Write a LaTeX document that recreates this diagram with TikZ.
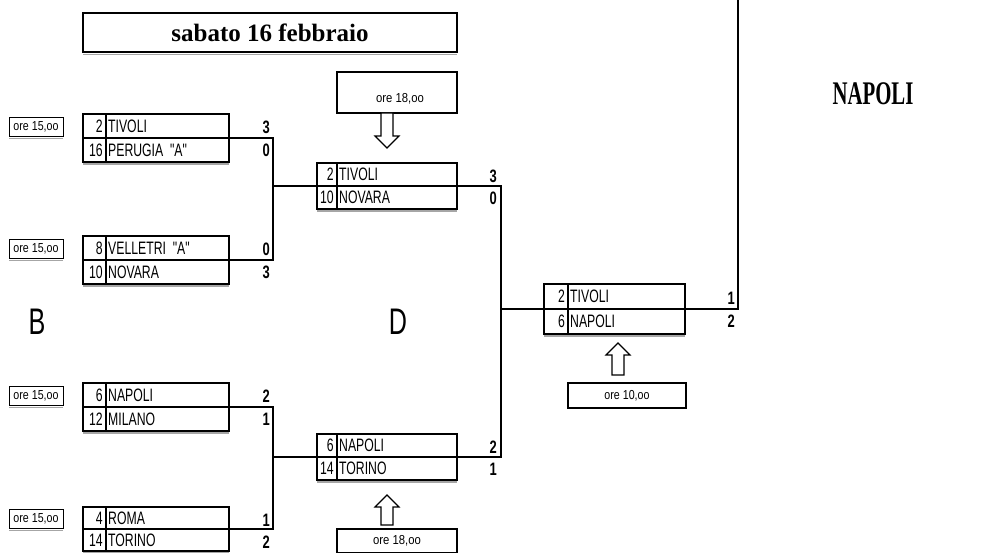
\documentclass[tikz,border=0pt]{standalone}
\usepackage{fontspec}
\setmainfont{Liberation Serif}
\newfontfamily\tsans{Liberation Sans}
\newcommand\nar[2][0.68]{\scalebox{#1}[1]{#2}}
\tikzset{
 x=1pt, y=-1pt,
 box/.style={draw, line width=1.3pt, inner sep=0pt, outer sep=0pt},
 conn/.style={line width=1.2pt},
 heavy/.style={line width=2.4pt},
 shade/.style={line width=1.2pt, black!35},
 team/.style={inner sep=0pt, font=\tsans\fontsize{18}{18}\selectfont},
 score/.style={inner sep=0pt, font=\tsans\bfseries\fontsize{18}{18}\selectfont},
 timetxt/.style={inner sep=0pt, font=\tsans\fontsize{13}{13}\selectfont},
 hollow/.style={draw, line width=1.1pt, fill=white, line join=miter},
}
% name, (x,y), width, height, separator offset, seed1, team1, seed2, team2
\newcommand\matchbox[9]{%
 \node[box, minimum width=#3, minimum height=#4] (#1) at #2 {};
 \draw[conn] (#1.west) -- (#1.east);
 \draw[conn] ([xshift=#5]#1.north west) -- ([xshift=#5]#1.south west);
 \draw[heavy] (#1.north west) -- (#1.north east);
 \draw[shade] ([yshift=-2]#1.south west) -- ([yshift=-2]#1.south east);
 \node[team, anchor=east] (#1sa) at ([xshift=#5-3, yshift=-#4/4]#1.north west) {\nar{#6}};
 \node[team, anchor=west] (#1ta) at ([xshift=#5+2, yshift=-#4/4]#1.north west) {\nar{#7}};
 \node[team, anchor=east] (#1sb) at ([xshift=#5-3, yshift=#4/4]#1.south west) {\nar{#8}};
 \node[team, anchor=west] (#1tb) at ([xshift=#5+2, yshift=#4/4]#1.south west) {\nar{#9}};
}
\newcommand\timebox[2]{%
 \node[box, line width=1pt, minimum width=54, minimum height=19, timetxt] (#1) at #2 {\nar[0.82]{ore 15,oo}};
 \draw[shade] ([yshift=-2]#1.south west) -- ([yshift=-2]#1.south east);
}
\newcommand\score[3]{\node[score, anchor=east] (#1) at #2 {\nar[0.72]{#3}};}
\begin{document}
\begin{tikzpicture}
\useasboundingbox (0,0) rectangle (982,553);

% title
\node[box, minimum width=374, minimum height=39, font=\bfseries\fontsize{25}{25}\selectfont] (title) at (270,32.5) {sabato 16 febbraio};
\draw[heavy] (title.south west) -- (title.south east);
\draw[line width=2pt] (title.south east) -- (title.north east);
\draw[shade] ([yshift=-2.5]title.south west) -- ([yshift=-2.5]title.south east);

% round 1
\matchbox{m1}{(156,138)}{146}{48}{23}{2}{TIVOLI}{16}{PERUGIA \ "A"}
\matchbox{m2}{(156,260)}{146}{48}{23}{8}{VELLETRI \ "A"}{10}{NOVARA}
\matchbox{m3}{(156,407)}{146}{48}{23}{6}{NAPOLI}{12}{MILANO}
\matchbox{m4}{(156,529)}{146}{44}{23}{4}{ROMA}{14}{TORINO}

\timebox{ta}{(36,127)}
\timebox{tb}{(36,249)}
\timebox{tc}{(36,396)}
\timebox{td}{(36,519)}

% round 2
\tikzset{box/.append style={line width=1.6pt}}
\matchbox{r1}{(387,186)}{140}{46}{20}{2}{TIVOLI}{10}{NOVARA}
\matchbox{r2}{(387,457)}{140}{46}{20}{6}{NAPOLI}{14}{TORINO}

% final
\matchbox{f}{(614.5,309)}{141}{50}{24}{2}{TIVOLI}{6}{NAPOLI}
\tikzset{box/.append style={line width=1.3pt}}

% scores
\score{sm1a}{(270,127)}{3}
\score{sm1b}{(270,150)}{0}
\score{sm2a}{(270,249)}{0}
\score{sm2b}{(270,272)}{3}
\score{sm3a}{(270,396)}{2}
\score{sm3b}{(270,419)}{1}
\score{sm4a}{(270,520)}{1}
\score{sm4b}{(270,542)}{2}
\score{sr1a}{(497,176)}{3}
\score{sr1b}{(497,198)}{0}
\score{sr2a}{(497,447)}{2}
\score{sr2b}{(497,469)}{1}
\score{sfa}{(735,298)}{1}
\score{sfb}{(735,321)}{2}

% connectors
\coordinate (j1) at (273,186);
\coordinate (j2) at (273,457);
\coordinate (j3) at (501,309);
\coordinate (topend) at (738,0);
\draw[conn] (m1.east) -| (j1) |- (m2.east);
\draw[conn] (j1) -- (r1.west);
\draw[conn] (m3.east) -| (j2) |- (m4.east);
\draw[conn] (j2) -- (r2.west);
\draw[conn] (r1.east) -| (j3) |- (r2.east);
\draw[conn] (j3) -- (f.west);
\draw[conn] (f.east) -| (topend);

% time boxes of later rounds
\node[box, minimum width=120, minimum height=41] (t18a) at (397,92.5) {};
\node[timetxt] (t18atxt) at (400,99) {\nar[0.87]{ore 18,oo}};
\node[box, minimum width=120, minimum height=24, timetxt] (t18b) at (397,541) {\nar[0.87]{ore 18,oo}};
\node[box, minimum width=118, minimum height=25, timetxt] (t10) at (627,395.5) {\nar[0.82]{ore 10,oo}};

% hollow arrows
\draw[hollow] ([xshift=-6]t18a.south -| r1.north) -- ++(12,0) -- ++(0,23) -- ++(6,0) -- ++(-12,12) -- ++(-12,-12) -- ++(6,0) -- cycle;
\draw[hollow] ([yshift=-15]r2.south) -- ++(12,12) -- ++(-6,0) -- ++(0,18) -- ++(-12,0) -- ++(0,-18) -- ++(-6,0) -- cycle;
\draw[hollow] ([xshift=3.5,yshift=-9]f.south) -- ++(12,12) -- ++(-6,0) -- ++(0,20) -- ++(-12,0) -- ++(0,-20) -- ++(-6,0) -- cycle;

% letters
\node[font=\tsans\fontsize{37}{37}\selectfont, inner sep=0pt] (lb) at (37,322) {\nar{B}};
\node[font=\tsans\fontsize{37}{37}\selectfont, inner sep=0pt] (ld) at (398,322) {\nar{D}};

% winner
\node[font=\bfseries\fontsize{33}{33}\selectfont, inner sep=0pt] (champ) at (873,94) {\nar[0.63]{NAPOLI}};
\end{tikzpicture}
\end{document}
